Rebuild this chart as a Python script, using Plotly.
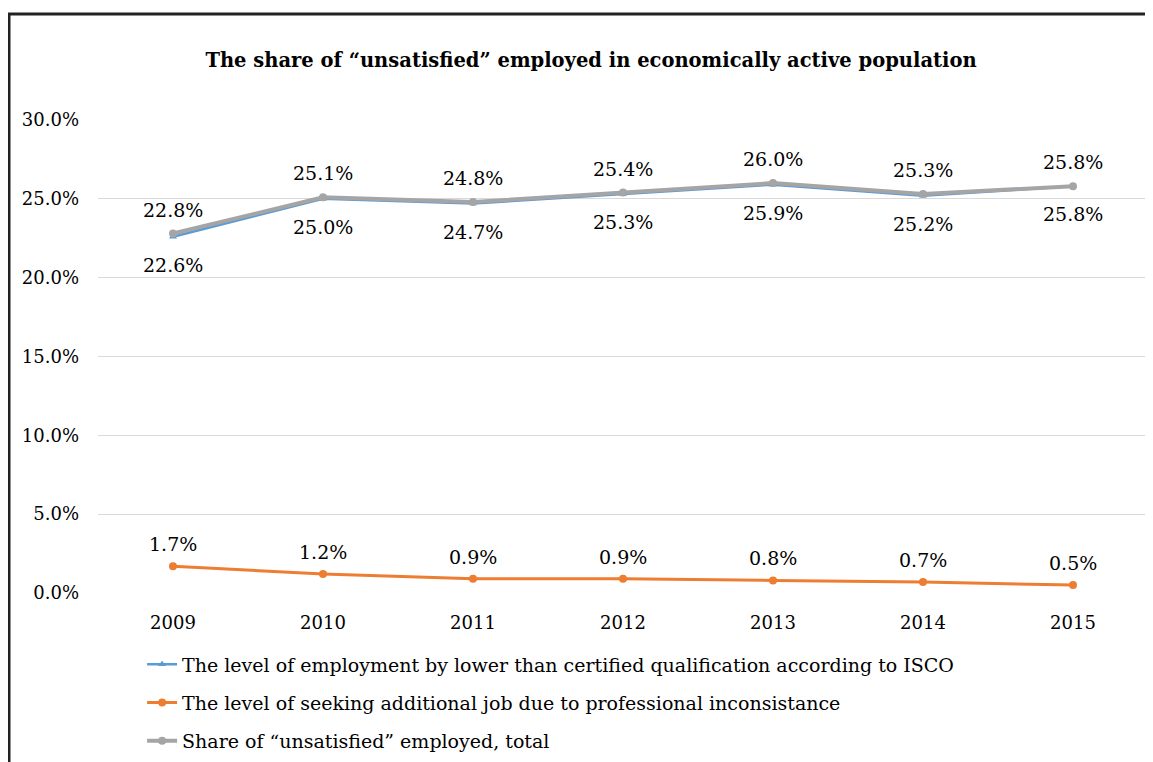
import plotly.graph_objects as go

years = ["2009", "2010", "2011", "2012", "2013", "2014", "2015"]
lower_qual = [22.6, 25.0, 24.7, 25.3, 25.9, 25.2, 25.8]
seeking_add = [1.7, 1.2, 0.9, 0.9, 0.8, 0.7, 0.5]
total_unsat = [22.8, 25.1, 24.8, 25.4, 26.0, 25.3, 25.8]
names = [
    "The level of employment by lower than certified qualification according to ISCO",
    "The level of seeking additional job due to professional inconsistance",
    "Share of “unsatisfied” employed, total",
]
y_ticks = [0, 5, 10, 15, 20, 25, 30]

FONT = "DejaVu Serif"
BLUE, ORANGE, GRAY = "#5B9BD5", "#ED7D31", "#A5A5A5"

fig = go.Figure()
fig.add_trace(go.Scatter(x=years, y=lower_qual, name=names[0], mode="lines+markers",
                         legendgroup="a",
                         line=dict(color=BLUE, width=2.5),
                         marker=dict(symbol="triangle-up", size=7, color=BLUE)))
fig.add_trace(go.Scatter(x=years, y=seeking_add, name=names[1], mode="lines+markers",
                         legendgroup="b",
                         line=dict(color=ORANGE, width=3),
                         marker=dict(symbol="circle", size=8, color=ORANGE)))
fig.add_trace(go.Scatter(x=years, y=total_unsat, name=names[2], mode="lines+markers",
                         legendgroup="c",
                         line=dict(color=GRAY, width=4),
                         marker=dict(symbol="circle", size=8, color=GRAY)))

annotations = []
for series, shift in ((total_unsat, 24), (lower_qual, -28), (seeking_add, 22)):
    for i, v in enumerate(series):
        annotations.append(dict(x=i, y=v, xref="x", yref="y", text=f"{v:.1f}%",
                                showarrow=False, yshift=shift,
                                font=dict(family=FONT, size=19, color="#000")))

fig.update_layout(
    width=1153, height=762,
    margin=dict(l=90, r=13, t=112, b=177),
    paper_bgcolor="white", plot_bgcolor="white",
    font=dict(family=FONT, size=19, color="#000"),
    title=dict(text="<b>The share of “unsatisfied” employed in economically active population</b>",
               x=583 / 1153, xanchor="center", y=1 - 52 / 762, yanchor="middle",
               font=dict(family=FONT, size=19.5, color="#000")),
    xaxis=dict(type="category", range=[-0.5, 6.5], showgrid=False, showline=False,
               ticks="", tickfont=dict(family=FONT, size=18), ticklabelstandoff=17),
    yaxis=dict(range=[0, 30], tickvals=y_ticks, ticktext=[f"{t:.1f}%" for t in y_ticks],
               showgrid=True, gridcolor="#D9D9D9", gridwidth=1.3, zeroline=False,
               showline=False, ticks="", tickfont=dict(family=FONT, size=18),
               ticklabelstandoff=18),
    legend=dict(x=0.042, y=1 - 637.5 / 762, yref="container", xanchor="left", yanchor="top",
                font=dict(family=FONT, size=19), tracegroupgap=10.5,
                bgcolor="rgba(0,0,0,0)"),
    annotations=annotations,
    shapes=[dict(type="rect", xref="paper", yref="paper",
                 x0=(1 - 90) / 1050, x1=1.03, y0=-0.4, y1=(585 - 6) / 473,
                 line=dict(color="#222", width=3), fillcolor="rgba(0,0,0,0)", layer="above")],
)

fig.write_html("out.html")
